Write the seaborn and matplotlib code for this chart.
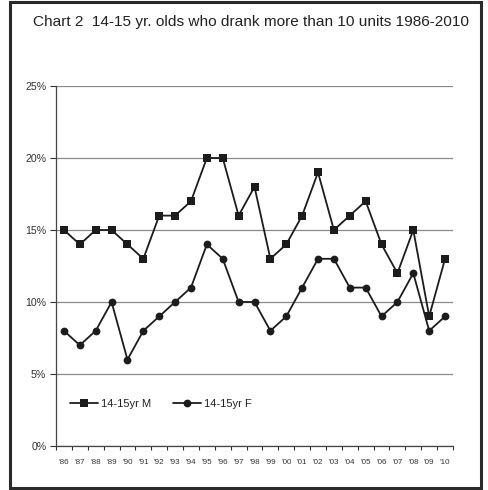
import matplotlib
matplotlib.use("Agg")
import matplotlib.pyplot as plt
from matplotlib.patches import Rectangle
from matplotlib.ticker import FuncFormatter, FixedLocator
import seaborn as sns
import pandas as pd

# Survey years (two-digit labels) and share of 14-15 year olds drinking > 10 units
years = ["'86", "'87", "'88", "'89", "'90", "'91", "'92", "'93", "'94", "'95",
         "'96", "'97", "'98", "'99", "'00", "'01", "'02", "'03", "'04", "'05",
         "'06", "'07", "'08", "'09", "'10"]
male = [15, 14, 15, 15, 14, 13, 16, 16, 17, 20,
        20, 16, 18, 13, 14, 16, 19, 15, 16, 17,
        14, 12, 15, 9, 13]
female = [8, 7, 8, 10, 6, 8, 9, 10, 11, 14,
          13, 10, 10, 8, 9, 11, 13, 13, 11, 11,
          9, 10, 12, 8, 9]
series_names = ["14-15yr M", "14-15yr F"]

sns.set_theme(style="white")
plt.rcParams["font.family"] = ["Liberation Sans", "DejaVu Sans"]

pos = list(range(len(years)))
df = pd.DataFrame({
    "pos": pos * 2,
    "pct": [v / 100 for v in male] + [v / 100 for v in female],
    "group": [series_names[0]] * len(years) + [series_names[1]] * len(years),
})

fig = plt.figure(figsize=(4.88, 4.90), dpi=100)
fig.patch.set_facecolor("white")
ax = fig.add_axes([56 / 488, 44 / 490, 397 / 488, 360 / 490])

ink = "#1c1c1c"
sns.lineplot(data=df, x="pos", y="pct", hue="group", style="group",
             markers={series_names[0]: "s", series_names[1]: "o"},
             dashes=False, palette={series_names[0]: ink, series_names[1]: ink},
             linewidth=1.3, markersize=6.2, markeredgewidth=0,
             ax=ax, legend=False)
# circles a touch smaller than squares
for ln, ms in zip(ax.get_lines(), [6.2, 5.6]):
    ln.set_markersize(ms)

ax.set_xlim(-0.5, len(years) - 0.5)
ax.set_ylim(0, 0.25)
ax.set_xlabel("")
ax.set_ylabel("")

# y axis: percent labels with gridlines
ax.set_yticks([0, 0.05, 0.10, 0.15, 0.20, 0.25])
ax.yaxis.set_major_formatter(FuncFormatter(lambda v, _: f"{round(v * 100)}%"))
ax.grid(axis="y", color="#8a8a8a", linewidth=0.9)
ax.grid(axis="x", visible=False)
ax.set_axisbelow(True)

# x axis: labels centred, tick marks on category boundaries
ax.set_xticks(pos)
ax.set_xticklabels(years)
ax.xaxis.set_minor_locator(FixedLocator([p - 0.5 for p in pos] + [len(years) - 0.5]))
ax.tick_params(axis="x", which="major", length=0, labelsize=5.8, pad=9, colors="#333333")
ax.tick_params(axis="x", which="minor", length=3, width=0.8, color="#333333",
               direction="out", bottom=True)
ax.tick_params(axis="y", which="major", length=4, width=0.8, color="#333333",
               direction="out", left=True, labelsize=7.6, pad=3, labelcolor="#333333")

for side in ["top", "right"]:
    ax.spines[side].set_visible(False)
for side in ["left", "bottom"]:
    ax.spines[side].set_color("#444444")
    ax.spines[side].set_linewidth(0.9)

# legend inside the plot area
handles = ax.get_lines()[:2]
leg = ax.legend(handles, series_names, loc="center left",
                bbox_to_anchor=(0.035, 0.117), ncol=2, frameon=False,
                fontsize=8, handlelength=2.5, handletextpad=0.3,
                columnspacing=2.0, borderpad=0.0, borderaxespad=0.0)
for t in leg.get_texts():
    t.set_color("#222222")

fig.text(251 / 488, 1 - 22 / 490,
         "Chart 2  14-15 yr. olds who drank more than 10 units 1986-2010",
         ha="center", va="center", fontsize=11.1, color="#222222")

# outer frame around the whole chart
fig.patches.append(Rectangle((10 / 488, 2 / 490), 471 / 488, 486 / 490,
                             transform=fig.transFigure, fill=False,
                             edgecolor="#2a2a2a", linewidth=2.2))

fig.savefig("out.png", dpi=100, facecolor="white")
